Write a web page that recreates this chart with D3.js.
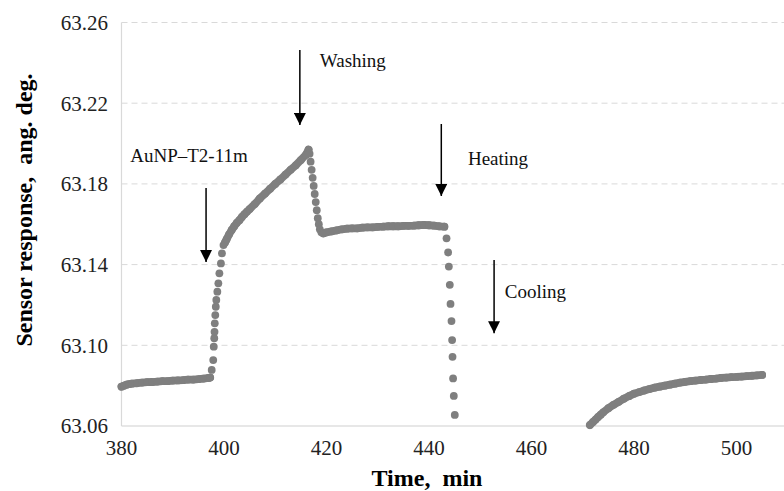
<!DOCTYPE html>
<html>
<head>
<meta charset="utf-8">
<script src="https://cdn.jsdelivr.net/npm/d3@7"></script>
<style>
  body { margin: 0; background: #fff; }
  text { font-family: "Liberation Serif", "Times New Roman", serif; }
</style>
</head>
<body>
<script>
const width = 784;
const height = 491;

// tick labels
const xTicks = [380, 400, 420, 440, 460, 480, 500];
const yTicks = [63.06, 63.10, 63.14, 63.18, 63.22, 63.26];

// [time (min), response (deg)], segment by segment
const baseline = [
  [380, 63.0795], [380.5, 63.0800], [381, 63.0805], [381.5, 63.0808], [382, 63.0810], [383, 63.0812],
  [384, 63.0815], [385, 63.0817], [386, 63.0818], [387, 63.0820], [388, 63.0822],
  [389, 63.0822], [390, 63.0825], [391, 63.0826], [392, 63.0827], [393, 63.0830],
  [394, 63.0830], [395, 63.0832], [396, 63.0835], [397, 63.0838], [397.3, 63.0840]
];
const injection = [
  [397.6, 63.0878], [397.9, 63.0927], [398.0, 63.0993], [398.1, 63.1035], [398.15, 63.1067],
  [398.2, 63.1109], [398.3, 63.1150], [398.4, 63.1191], [398.5, 63.1225], [398.7, 63.1266],
  [398.9, 63.1307], [399.1, 63.1357], [399.4, 63.1406], [399.6, 63.1456], [399.9, 63.1497]
];
const association = [
  [400.2, 63.1510], [400.5, 63.1525], [401, 63.1550], [401.5, 63.1572], [402, 63.1590],
  [402.5, 63.1607], [403, 63.1620], [403.5, 63.1636], [404, 63.1650], [404.5, 63.1663],
  [405, 63.1675], [406, 63.1700], [407, 63.1728], [408, 63.1752], [409, 63.1776],
  [410, 63.1800], [411, 63.1822], [412, 63.1846], [413, 63.1870], [414, 63.1892],
  [415, 63.1918], [416, 63.1945], [416.5, 63.1970]
];
const washing = [
  [416.7, 63.1950], [416.9, 63.1910], [417.1, 63.1870], [417.3, 63.1830], [417.5, 63.1790],
  [417.7, 63.1750], [417.9, 63.1710], [418.1, 63.1670], [418.3, 63.1630], [418.5, 63.1600],
  [418.7, 63.1575], [419.0, 63.1560], [419.4, 63.1555]
];
const plateau = [
  [419.4, 63.1555], [420, 63.1560], [421, 63.1565], [422, 63.1570], [423, 63.1575],
  [424, 63.1578], [425, 63.1580], [426, 63.1580], [427, 63.1583], [428, 63.1585],
  [429, 63.1585], [430, 63.1587], [431, 63.1588], [432, 63.1590], [433, 63.1590],
  [434, 63.1590], [435, 63.1592], [436, 63.1592], [437, 63.1593], [438, 63.1595],
  [439, 63.1597], [440, 63.1595], [441, 63.1593], [442, 63.1590], [443, 63.1588]
];
const heating = [
  [443.42, 63.1530], [443.73, 63.1460], [443.87, 63.1390], [444.06, 63.1300], [444.2, 63.1205],
  [444.39, 63.1120], [444.51, 63.1026], [444.59, 63.0943], [444.7, 63.0836], [444.84, 63.0749],
  [445.03, 63.0655]
];
const cooling = [
  [471.4, 63.0605], [472, 63.0620], [472.5, 63.0632], [473, 63.0645], [473.5, 63.0656],
  [474, 63.0668], [475, 63.0688], [476, 63.0705], [477, 63.0720], [478, 63.0735],
  [479, 63.0748], [480, 63.0760], [481, 63.0768], [482, 63.0776], [483, 63.0783],
  [484, 63.0790], [485, 63.0795], [486, 63.0800], [487, 63.0805], [488, 63.0810],
  [489, 63.0815], [490, 63.0819], [491, 63.0822], [492, 63.0825], [493, 63.0828],
  [494, 63.0830], [495, 63.0833], [496, 63.0835], [497, 63.0838], [498, 63.0840],
  [499, 63.0842], [500, 63.0843], [501, 63.0845], [502, 63.0847], [503, 63.0849],
  [504, 63.0851], [505, 63.0853]
];

// annotations: label, arrow time, arrow top, arrow tip, label time, label value
const notes = [
  { label: "AuNP\u2013T2-11m", t: 396.5, top: 63.178, tip: 63.1413, lt: 381.7, lv: 63.1909 },
  { label: "Washing", t: 414.8, top: 63.2464, tip: 63.2092, lt: 418.7, lv: 63.238 },
  { label: "Heating", t: 442.4, top: 63.2097, tip: 63.174, lt: 447.6, lv: 63.1894 },
  { label: "Cooling", t: 452.7, top: 63.1423, tip: 63.106, lt: 454.8, lv: 63.1234 }
];

const x = d3.scaleLinear().domain([380, 520]).range([121.5, 839]);
const y = d3.scaleLinear().domain([63.06, 63.26]).range([426, 22.5]);

const svg = d3.select("body")
  .append("svg")
    .attr("width", width)
    .attr("height", height)
    .style("background", "#fff");

// grid
svg.append("g")
  .selectAll("line")
  .data(yTicks.slice(1))
  .enter()
  .append("line")
    .attr("x1", x(380))
    .attr("x2", x(520))
    .attr("y1", d => y(d))
    .attr("y2", d => y(d))
    .attr("stroke", "#d9d9d9")
    .attr("stroke-width", 1)
    .attr("stroke-dasharray", "6,4");

// axis lines
svg.append("line")
  .attr("x1", x(380)).attr("x2", x(520))
  .attr("y1", y(63.06)).attr("y2", y(63.06))
  .attr("stroke", "#d0d0d0").attr("stroke-width", 1.2);
svg.append("line")
  .attr("x1", x(380)).attr("x2", x(380))
  .attr("y1", y(63.06)).attr("y2", y(63.26))
  .attr("stroke", "#d9d9d9").attr("stroke-width", 1.2);

// tick labels
svg.append("g")
  .selectAll("text")
  .data(yTicks)
  .enter()
  .append("text")
    .attr("x", 108)
    .attr("y", d => y(d))
    .attr("dy", "0.35em")
    .attr("text-anchor", "end")
    .style("font-size", "21px")
    .attr("fill", "#222")
    .text(d => d.toFixed(2));

svg.append("g")
  .selectAll("text")
  .data(xTicks)
  .enter()
  .append("text")
    .attr("x", d => x(d))
    .attr("y", 455)
    .attr("text-anchor", "middle")
    .style("font-size", "21px")
    .attr("fill", "#222")
    .text(d => d);

// axis titles
svg.append("text")
  .attr("x", 427)
  .attr("y", 486)
  .attr("text-anchor", "middle")
  .style("font-size", "24px")
  .style("font-weight", "bold")
  .style("white-space", "pre")
  .text("Time,  min");

svg.append("text")
  .attr("transform", "translate(32,210) rotate(-90)")
  .attr("text-anchor", "middle")
  .style("font-size", "24px")
  .style("font-weight", "bold")
  .style("white-space", "pre")
  .text("Sensor response,  ang. deg.");

// data
const dotColor = "#7f7f7f";
const r = 3.9;
const line = d3.line().x(d => x(d[0])).y(d => y(d[1]));

[baseline, association, plateau, cooling].forEach(seg => {
  svg.append("path")
    .datum(seg)
    .attr("d", line)
    .attr("fill", "none")
    .attr("stroke", dotColor)
    .attr("stroke-width", r * 2)
    .attr("stroke-linecap", "round")
    .attr("stroke-linejoin", "round");
});

const allPoints = [].concat(baseline, injection, association, washing, plateau, heating, cooling);
svg.append("g")
  .selectAll("circle")
  .data(allPoints)
  .enter()
  .append("circle")
    .attr("cx", d => x(d[0]))
    .attr("cy", d => y(d[1]))
    .attr("r", r)
    .attr("fill", dotColor);

// annotations
svg.append("defs").append("marker")
  .attr("id", "head")
  .attr("viewBox", "0 0 10 10")
  .attr("refX", 10)
  .attr("refY", 5)
  .attr("markerUnits", "userSpaceOnUse")
  .attr("markerWidth", 12)
  .attr("markerHeight", 12)
  .attr("orient", "auto")
  .append("path")
    .attr("d", "M0,0L10,5L0,10Z")
    .attr("fill", "#000");

const ann = svg.append("g")
  .selectAll("g")
  .data(notes)
  .enter()
  .append("g");

ann.append("line")
  .attr("x1", d => x(d.t))
  .attr("x2", d => x(d.t))
  .attr("y1", d => y(d.top))
  .attr("y2", d => y(d.tip))
  .attr("stroke", "#000")
  .attr("stroke-width", 1.5)
  .attr("marker-end", "url(#head)");

ann.append("text")
  .attr("x", d => x(d.lt))
  .attr("y", d => y(d.lv))
  .style("font-size", "19px")
  .attr("fill", "#111")
  .text(d => d.label);
</script>
</body>
</html>
